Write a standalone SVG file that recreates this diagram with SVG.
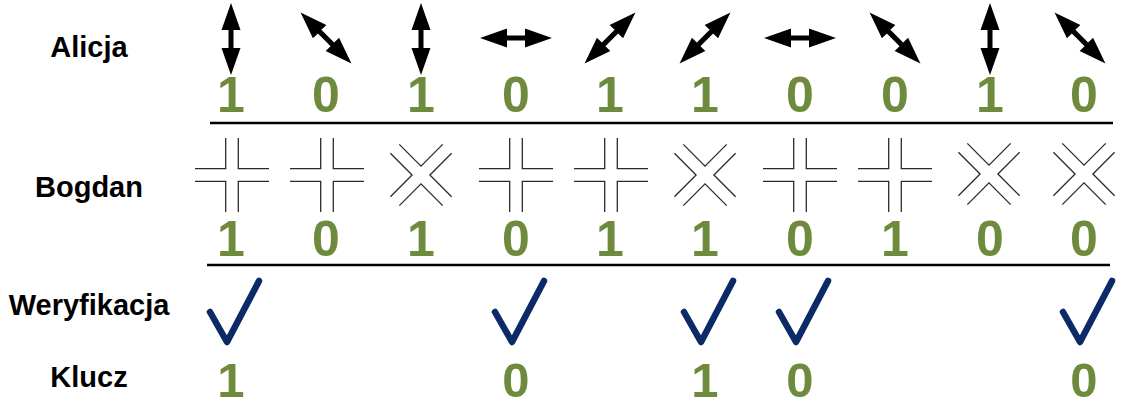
<svg xmlns="http://www.w3.org/2000/svg" width="1122" height="406" viewBox="0 0 1122 406">
<style>
.lbl{font-family:"Liberation Sans",Arial,sans-serif;font-weight:bold;font-size:29px;fill:#000;text-anchor:middle}
.bit{font-family:"Liberation Sans",Arial,sans-serif;font-weight:bold;font-size:50px;fill:#6E8B3D;text-anchor:middle}
.key{font-family:"Liberation Sans",Arial,sans-serif;font-weight:bold;font-size:49px;fill:#6E8B3D;text-anchor:middle}
.sep{stroke:#000;stroke-width:2.6}
.cross{fill:none;stroke:#2a2a2a;stroke-width:1.3}
.chk{fill:none;stroke:#0C2A67;stroke-width:6.5;stroke-linecap:round;stroke-linejoin:round}
</style>
<defs>
<polygon id="arrow" points="-36,0 -9,-9.5 -9,-2.5 9,-2.5 9,-9.5 36,0 9,9.5 9,2.5 -9,2.5 -9,9.5" fill="#000"/>
<path id="cross" class="cross" d="M-37,-6.3 H-6.3 V-37 M6.3,-37 V-6.3 H37 M37,6.3 H6.3 V37 M-6.3,37 V6.3 H-37"/>
<path id="check" class="chk" d="M-21,312 L-4,342 L28,281"/>
</defs>
<g id="labels">
<text class="lbl" x="89" y="57">Alicja</text>
<text class="lbl" x="89" y="197">Bogdan</text>
<text class="lbl" x="89" y="315">Weryfikacja</text>
<text class="lbl" x="89" y="387">Klucz</text>
</g>
<g id="alicja-polarizations">
<use href="#arrow" transform="translate(231,39) rotate(90)"/>
<use href="#arrow" transform="translate(326,38) rotate(45)"/>
<use href="#arrow" transform="translate(421,39) rotate(90)"/>
<use href="#arrow" transform="translate(516,38)"/>
<use href="#arrow" transform="translate(610,38) rotate(-45)"/>
<use href="#arrow" transform="translate(705,38) rotate(-45)"/>
<use href="#arrow" transform="translate(800,38)"/>
<use href="#arrow" transform="translate(895,38) rotate(45)"/>
<use href="#arrow" transform="translate(990,39) rotate(90)"/>
<use href="#arrow" transform="translate(1080,38) rotate(45)"/>
</g>
<g id="alicja-bits">
<text class="bit" x="231" y="112">1</text>
<text class="bit" x="326" y="112">0</text>
<text class="bit" x="421" y="112">1</text>
<text class="bit" x="516" y="112">0</text>
<text class="bit" x="610" y="112">1</text>
<text class="bit" x="705" y="112">1</text>
<text class="bit" x="800" y="112">0</text>
<text class="bit" x="895" y="112">0</text>
<text class="bit" x="990" y="112">1</text>
<text class="bit" x="1084" y="112">0</text>
</g>
<g id="separators">
<line class="sep" x1="210" y1="123" x2="1113" y2="123"/>
<line class="sep" x1="207" y1="265" x2="1110" y2="265"/>
</g>
<g id="bogdan-bases">
<use href="#cross" transform="translate(232,175)"/>
<use href="#cross" transform="translate(327,175)"/>
<use href="#cross" transform="translate(421,175) rotate(45)"/>
<use href="#cross" transform="translate(516,175)"/>
<use href="#cross" transform="translate(611,175)"/>
<use href="#cross" transform="translate(705,175) rotate(45)"/>
<use href="#cross" transform="translate(800,175)"/>
<use href="#cross" transform="translate(895,175)"/>
<use href="#cross" transform="translate(989,174) rotate(45)"/>
<use href="#cross" transform="translate(1084,174) rotate(45)"/>
</g>
<g id="bogdan-bits">
<text class="bit" x="231" y="256">1</text>
<text class="bit" x="326" y="256">0</text>
<text class="bit" x="421" y="256">1</text>
<text class="bit" x="516" y="256">0</text>
<text class="bit" x="610" y="256">1</text>
<text class="bit" x="705" y="256">1</text>
<text class="bit" x="800" y="256">0</text>
<text class="bit" x="895" y="256">1</text>
<text class="bit" x="990" y="256">0</text>
<text class="bit" x="1084" y="256">0</text>
</g>
<g id="verification">
<use href="#check" transform="translate(231,0)"/>
<use href="#check" transform="translate(516,0)"/>
<use href="#check" transform="translate(705,0)"/>
<use href="#check" transform="translate(800,0)"/>
<use href="#check" transform="translate(1084,0)"/>
</g>
<g id="key">
<text class="key" x="231" y="397">1</text>
<text class="key" x="516" y="397">0</text>
<text class="key" x="705" y="397">1</text>
<text class="key" x="800" y="397">0</text>
<text class="key" x="1084" y="397">0</text>
</g>
</svg>
